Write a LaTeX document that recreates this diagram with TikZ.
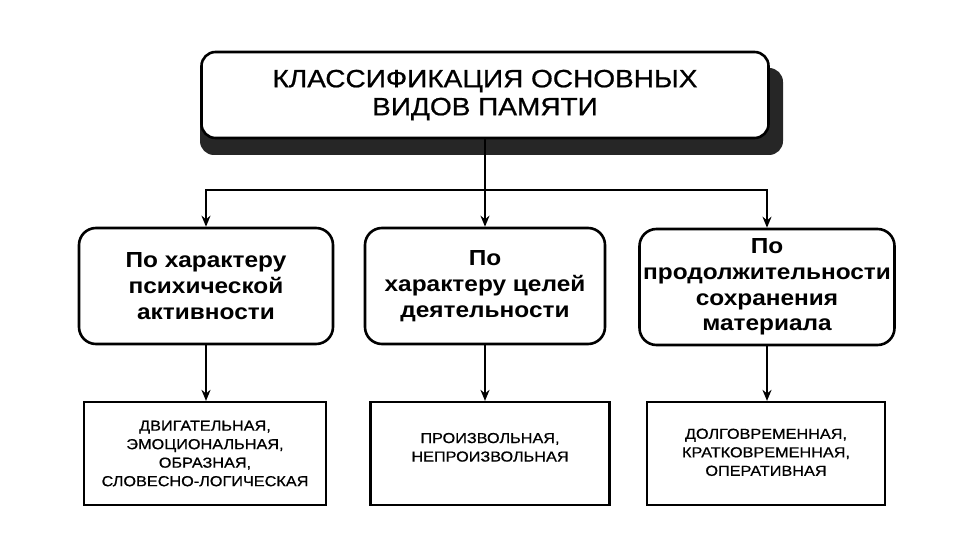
\documentclass[tikz,border=0pt]{standalone}
\usepackage{fontspec}
\newfontfamily\diagfont[FakeStretch=1.12]{Liberation Sans}
\newfontfamily\headfont[FakeStretch=1.12,FakeBold=0.8]{Liberation Sans}
\usetikzlibrary{arrows.meta,positioning,calc}

\begin{document}
\begin{tikzpicture}[x=1pt,y=-1pt,
  header/.style={draw,line width=2.6pt,rounded corners=14pt,fill=white,align=center,
    minimum width=567pt,minimum height=86pt,font=\headfont\fontsize{25}{28}\selectfont},
  group/.style={draw,line width=2.6pt,rounded corners=17pt,align=center,
    minimum height=116pt,font=\diagfont\bfseries\fontsize{21.8}{25.8}\selectfont},
  kind/.style={draw,line width=2.2pt,align=center,
    minimum height=103pt,font=\headfont\fontsize{14.5}{18.5}\selectfont},
  edge/.style={line width=1.8pt,-{Stealth[length=11pt,width=9pt]}},
  link/.style={line width=1.8pt}]
\useasboundingbox (0,0) rectangle (960,540);

% shadow behind the header
\fill[black!85] (200,68) [rounded corners=14pt] rectangle (783,155);
\node(top)[header] at (485,95) {КЛАССИФИКАЦИЯ ОСНОВНЫХ\\ВИДОВ ПАМЯТИ};

% criteria
\node(g1)[group,minimum width=254pt] at (206,286) {По характеру\\психической\\активности};
\node(g2)[group,minimum width=240pt] at (485,286) {По\\характеру целей\\деятельности};
\node(g3)[group,minimum width=255pt] at (767,287) {По\\продолжительности\\сохранения\\материала};

% kinds
\node(k1)[kind,minimum width=242pt] at (205,453.5) {ДВИГАТЕЛЬНАЯ,\\ЭМОЦИОНАЛЬНАЯ,\\ОБРАЗНАЯ,\\СЛОВЕСНО-ЛОГИЧЕСКАЯ};
\node(k2)[kind,minimum width=239pt] at (490,453.5) {ПРОИЗВОЛЬНАЯ,\\НЕПРОИЗВОЛЬНАЯ\\[-6pt]};
\node(k3)[kind,minimum width=238pt] at (766,453.5) {ДОЛГОВРЕМЕННАЯ,\\КРАТКОВРЕМЕННАЯ,\\ОПЕРАТИВНАЯ\\[-16pt]};

\coordinate(bus) at (485,190);
\draw [link] (top.south) -- (bus);
\draw [edge] (bus) -| (g1.north);
\draw [edge] (bus) -- (g2.north);
\draw [edge] (bus) -| (g3.north);
\draw [edge] (g1.south) -- (g1.south |- k1.north);
\draw [edge] (g2.south) -- (g2.south |- k2.north);
\draw [edge] (g3.south) -- (g3.south |- k3.north);
\end{tikzpicture}
\end{document}
